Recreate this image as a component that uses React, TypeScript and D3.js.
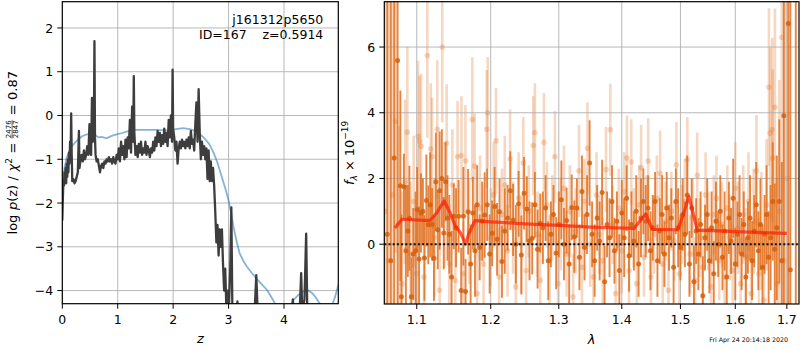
import React, { useEffect, useRef } from "react";
import * as d3 from "d3";

// ---- left panel: log p(z) and prior ----
const pzCurve: [number, number][] = [
  [0.0, -2.4], [0.01, -1.9], [0.02, -1.5], [0.03, -1.6], [0.04, -1.3], [0.05, -1.45], [0.06, -1.2],
  [0.07, -1.55], [0.08, -1.1], [0.09, -1.4], [0.1, -1.0], [0.11, -1.3], [0.12, -0.85], [0.13, -1.1],
  [0.14, -0.6], [0.15, -1.0], [0.16, 0.05], [0.17, -0.9], [0.18, -1.5], [0.2, -1.45], [0.22, -1.55],
  [0.24, -1.5], [0.26, -1.4], [0.28, -1.3], [0.3, -0.35], [0.31, -1.2], [0.33, -1.0], [0.35, -0.9],
  [0.37, -1.05], [0.39, -0.8], [0.41, -1.0], [0.43, -0.9], [0.45, -0.7], [0.47, -0.9], [0.49, -0.2],
  [0.5, -0.8], [0.52, -0.9], [0.535, 0.4], [0.55, -0.6], [0.57, -0.3], [0.58, 1.7], [0.59, -0.5],
  [0.6, -0.9], [0.62, -1.05], [0.64, -1.0], [0.66, -1.15], [0.68, -1.3], [0.7, -1.15], [0.72, -1.1],
  [0.74, -1.2], [0.76, -1.05], [0.78, -1.1], [0.8, -1.0], [0.82, -1.05], [0.84, -0.95], [0.86, -1.05],
  [0.88, -1.0], [0.9, -1.1], [0.92, -0.95], [0.94, -1.05], [0.96, -1.1], [0.98, -0.9], [1.0, -1.0],
  [1.02, -0.75], [1.04, -1.05], [1.06, -0.6], [1.08, -0.9], [1.1, -0.7], [1.12, -1.0], [1.14, -0.55],
  [1.16, -0.95], [1.18, -0.5], [1.2, -0.75], [1.22, -0.1], [1.24, -0.85], [1.26, 0.2], [1.28, -0.6],
  [1.29, 0.9], [1.3, -0.4], [1.32, -0.9], [1.34, -0.7], [1.36, -0.95], [1.38, -0.65], [1.4, -0.85],
  [1.42, -0.6], [1.44, -0.9], [1.46, -0.75], [1.48, -0.85], [1.5, -0.6], [1.52, -0.9], [1.54, -0.7],
  [1.56, -0.8], [1.58, -0.95], [1.6, -0.75], [1.62, -0.85], [1.64, -0.6], [1.66, -0.8], [1.68, -0.5],
  [1.7, -0.7], [1.72, -0.35], [1.74, -0.6], [1.76, -0.4], [1.78, -0.7], [1.8, -0.45], [1.82, -0.65],
  [1.84, -0.3], [1.86, -0.6], [1.88, -0.4], [1.9, -0.7], [1.92, -0.1], [1.94, -0.5], [1.96, 0.0],
  [1.98, -0.6], [1.99, 1.05], [2.0, -0.3], [2.02, -0.5], [2.04, -0.8], [2.06, -0.6], [2.08, -1.1],
  [2.1, -0.75], [2.12, -0.6], [2.14, -0.75], [2.16, -0.55], [2.18, -0.7], [2.2, -0.6], [2.22, -0.75],
  [2.24, -0.55], [2.26, -0.7], [2.28, -0.5], [2.3, -0.75], [2.32, -0.35], [2.34, -0.65], [2.36, -0.55],
  [2.38, -0.8], [2.4, -0.2], [2.42, 0.3], [2.44, -0.6], [2.46, 0.6], [2.48, -0.4], [2.5, -1.0],
  [2.52, -0.6], [2.54, -0.9], [2.56, -0.7], [2.58, -1.0], [2.6, -0.75], [2.62, -1.45], [2.64, -0.8],
  [2.66, -1.5], [2.68, -1.05], [2.7, -1.5], [2.72, -1.2], [2.74, -1.6], [2.76, -2.2], [2.78, -2.9],
  [2.8, -2.5], [2.82, -3.2], [2.84, -2.6], [2.86, -3.0], [2.88, -2.6], [2.9, -3.4], [2.92, -4.0],
  [2.94, -3.5], [2.96, -4.4], [2.98, -4.0], [3.0, -4.6], [3.03, -3.5], [3.05, -2.1], [3.07, -4.6],
  [3.12, -5.0], [3.16, -4.25], [3.18, -5.0], [3.45, -5.0], [3.48, -4.2], [3.5, -3.65], [3.52, -4.3],
  [3.55, -5.0], [4.12, -5.0], [4.16, -4.2], [4.2, -5.0], [4.28, -4.6], [4.31, -3.6], [4.33, -4.5],
  [4.37, -4.2], [4.4, -2.7], [4.42, -4.4], [4.45, -5.0], [4.98, -5.0],
];

const priorCurve: [number, number][] = [
  [0.0, -1.55], [0.04, -1.2], [0.08, -0.96], [0.16, -0.72], [0.26, -0.58], [0.35, -0.48], [0.44, -0.43],
  [0.52, -0.42], [0.59, -0.44], [0.65, -0.5], [0.71, -0.49], [0.8, -0.52], [0.88, -0.47], [0.98, -0.43],
  [1.08, -0.4], [1.16, -0.37], [1.3, -0.33], [1.5, -0.33], [1.7, -0.33], [1.88, -0.34], [2.05, -0.31],
  [2.18, -0.29], [2.3, -0.31], [2.42, -0.36], [2.55, -0.5], [2.65, -0.65], [2.73, -0.85], [2.8, -1.08],
  [2.88, -1.41], [2.95, -1.7], [3.0, -1.94], [3.05, -2.25], [3.09, -2.55], [3.15, -2.9], [3.2, -3.15],
  [3.27, -3.33], [3.33, -3.45], [3.42, -3.6], [3.5, -3.72], [3.6, -3.86], [3.69, -3.98], [3.75, -4.1],
  [3.8, -4.21], [3.86, -4.35], [3.95, -4.45], [4.1, -4.4], [4.17, -4.22], [4.26, -4.1], [4.35, -4.02],
  [4.44, -4.0], [4.5, -4.05], [4.56, -4.13], [4.62, -4.25], [4.68, -4.36], [4.77, -4.45], [4.86, -4.36],
  [4.92, -4.15], [4.98, -3.87],
];

const zTicks = [0, 1, 2, 3, 4];
const logPTicks = [-4, -3, -2, -1, 0, 1, 2];

// ---- right panel: spectra [wavelength, flux, error] ----
const beamDark: [number, number, number][] = [
  [1.0625, 0.3, 40], [1.0669, -0.5, 40], [1.0712, 2.62, 40], [1.0755, 5.59, 40], [1.079, 1.78, 2.9],
  [1.0803, -1.6, 2.5], [1.0835, 1.75, 1.0], [1.086, -0.2, 2.0], [1.0885, 0.4, 1.4], [1.0905, 0.79, 1.6],
  [1.093, -1.6, 1.2], [1.0955, -0.3, 1.4], [1.0985, -0.2, 1.8], [1.1005, 1.05, 1.3], [1.103, -0.45, 1.6],
  [1.1055, 0.95, 1.2], [1.108, 1.0, 1.0], [1.11, -0.42, 1.3], [1.1125, 1.33, 1.4], [1.115, 0.59, 1.2],
  [1.1175, 1.2, 1.6], [1.12, 0.6, 1.1], [1.1225, -0.43, 1.3], [1.125, 1.9, 1.5], [1.1275, 0.44, 1.2],
  [1.13, 1.63, 1.8], [1.133, 2.0, 1.5], [1.1355, 0.34, 1.1], [1.138, 1.9, 1.2], [1.1405, 0.8, 1.3],
  [1.143, 0.3, 1.2], [1.146, -1.0, 1.4], [1.149, 0.85, 1.0], [1.152, 0.5, 1.2], [1.1555, 0.85, 1.1],
  [1.159, -1.41, 1.3], [1.162, 0.85, 1.5], [1.165, -1.44, 1.0], [1.1685, 0.99, 1.3], [1.172, -0.6, 1.2],
  [1.175, 0.95, 1.1], [1.178, -0.2, 1.4], [1.181, 1.2, 1.2], [1.1845, -0.1, 1.0], [1.188, 0.7, 1.2],
  [1.1915, 0.89, 1.3], [1.195, 1.2, 1.1], [1.1985, -0.3, 1.2], [1.202, 0.33, 1.0], [1.2055, 1.15, 1.2],
  [1.209, 0.15, 1.1], [1.2125, 0.99, 1.0], [1.216, -0.53, 1.1], [1.22, 0.4, 1.3], [1.224, 0.8, 1.0],
  [1.228, 1.63, 1.2], [1.232, 0.74, 1.1], [1.236, 0.0, 1.2], [1.24, 1.23, 1.0], [1.244, -0.33, 1.2],
  [1.248, 1.55, 1.1], [1.252, 1.07, 1.0], [1.256, 0.1, 1.2], [1.26, 0.18, 1.1], [1.264, 1.2, 1.0],
  [1.268, -0.15, 1.2], [1.272, 0.64, 0.9], [1.276, 0.5, 1.1], [1.28, 1.1, 1.0], [1.284, -0.5, 1.2],
  [1.288, 0.3, 1.0], [1.292, 0.9, 0.9], [1.296, -0.27, 1.1], [1.3, 0.6, 1.0], [1.304, 1.35, 1.2],
  [1.308, 0.0, 1.1], [1.312, 0.72, 1.0], [1.316, -0.6, 1.2], [1.32, 1.12, 1.0], [1.324, 0.23, 1.1],
  [1.328, 1.1, 0.9], [1.332, -0.4, 1.0], [1.336, 1.6, 1.1], [1.34, -0.1, 1.0], [1.344, 0.9, 1.2],
  [1.348, 2.47, 1.3], [1.352, 0.3, 1.0], [1.356, -0.5, 1.1], [1.36, 0.8, 1.0], [1.364, 0.1, 1.2],
  [1.368, 1.57, 1.0], [1.372, -1.14, 1.1], [1.376, 0.6, 1.0], [1.38, 0.2, 1.2], [1.384, 1.3, 1.1],
  [1.388, -0.2, 1.0], [1.392, 0.7, 0.9], [1.396, -0.8, 1.1], [1.4, 0.95, 1.0], [1.404, 0.2, 1.2],
  [1.408, 1.4, 1.0], [1.412, -0.35, 1.1], [1.416, 0.6, 1.0], [1.42, 0.1, 0.9], [1.424, 1.0, 1.1],
  [1.428, -0.6, 1.0], [1.432, 0.8, 1.2], [1.436, 1.3, 1.0], [1.44, 0.7, 1.1], [1.444, 1.1, 1.0],
  [1.448, -0.2, 1.2], [1.452, 0.5, 1.0], [1.456, 1.3, 0.9], [1.46, -0.5, 1.1], [1.464, 0.4, 1.0],
  [1.468, 0.9, 1.2], [1.472, -0.3, 1.0], [1.476, 1.1, 1.1], [1.48, 0.2, 1.0], [1.484, 0.8, 0.9],
  [1.488, -0.7, 1.1], [1.492, 1.3, 1.0], [1.496, 0.5, 1.2], [1.5, -0.1, 1.0], [1.504, 0.9, 1.1],
  [1.508, 0.3, 1.0], [1.512, 1.5, 1.2], [1.516, -0.6, 1.0], [1.52, 1.1, 0.9], [1.524, -1.14, 1.1],
  [1.528, 0.4, 1.0], [1.532, -0.3, 1.1], [1.536, 0.6, 1.0], [1.54, -1.57, 1.2], [1.544, 0.2, 1.0],
  [1.548, 0.9, 1.1], [1.552, -0.5, 1.0], [1.556, 0.5, 1.1], [1.56, -0.9, 1.0], [1.564, 0.7, 1.2],
  [1.568, 0.0, 1.0], [1.572, 1.0, 1.1], [1.576, -0.4, 1.0], [1.58, 0.4, 1.2], [1.584, -1.0, 1.0],
  [1.588, 0.8, 1.1], [1.592, 0.1, 1.0], [1.596, 1.4, 1.2], [1.6, -0.6, 1.1], [1.604, 0.3, 1.0],
  [1.608, 0.9, 1.2], [1.612, -0.3, 1.1], [1.616, 0.6, 1.0], [1.62, -1.0, 1.2], [1.624, 0.2, 1.1],
  [1.628, 0.8, 1.3], [1.632, -0.5, 1.2], [1.636, 0.4, 1.1], [1.64, 1.2, 1.3], [1.644, -0.2, 1.2],
  [1.648, 0.6, 1.4], [1.652, -0.7, 1.3], [1.656, 0.3, 1.2], [1.66, 0.9, 1.5], [1.664, -0.4, 1.4],
  [1.668, 0.2, 1.6], [1.672, 1.3, 1.8], [1.676, -0.15, 2.0], [1.68, 0.5, 2.2], [1.685, 1.3, 2.5],
  [1.69, -0.5, 3.0], [1.694, 3.91, 40], [1.703, 6.72, 40], [1.707, -0.78, 40], [1.718, 9.0, 40],
];

const beamLight: [number, number, number][] = [
  [1.06, 1.0, 40], [1.064, -0.5, 40], [1.069, 1.5, 6], [1.0729, 3.74, 4.0], [1.077, 0.6, 3.0],
  [1.081, -1.2, 2.8], [1.085, 1.9, 2.5], [1.0879, 3.41, 2.6], [1.092, -0.3, 2.2], [1.096, 1.3, 2.0],
  [1.1, -0.9, 2.0], [1.1017, 3.28, 2.3], [1.1036, 3.13, 2.0], [1.1056, 2.98, 2.2], [1.1095, -1.0, 2.0],
  [1.1138, 5.74, 2.5], [1.1183, 2.9, 2.0], [1.12, 2.66, 1.8], [1.123, 0.2, 1.8], [1.1269, 3.5, 2.1],
  [1.13, -1.4, 1.8], [1.1335, 6.0, 2.3], [1.1365, 1.2, 1.9], [1.1394, 3.07, 1.8], [1.143, -0.6, 1.8],
  [1.147, 1.8, 1.7], [1.151, -1.1, 1.8], [1.1541, 2.66, 1.7], [1.1594, 2.7, 1.8], [1.162, -0.9, 1.6],
  [1.1648, 2.54, 1.7], [1.17, 0.4, 1.6], [1.1743, 3.79, 1.9], [1.1775, 2.38, 1.6], [1.181, -1.5, 1.5],
  [1.185, 1.1, 1.6], [1.19, -0.6, 1.5], [1.1944, 3.5, 1.8], [1.1958, 4.0, 1.7], [1.2, 0.2, 1.5],
  [1.204, 1.5, 1.6], [1.2075, 3.15, 1.6], [1.212, -1.0, 1.5], [1.216, 0.9, 1.4], [1.22, 1.8, 1.5],
  [1.224, -0.2, 1.4], [1.2277, 2.6, 1.5], [1.232, 0.5, 1.4], [1.236, -1.3, 1.5], [1.24, 1.4, 1.4],
  [1.244, 0.0, 1.5], [1.2469, 2.47, 1.4], [1.251, -0.8, 1.3], [1.255, 1.0, 1.4], [1.2615, 3.0, 1.5],
  [1.264, 3.4, 1.5], [1.268, 0.3, 1.3], [1.272, -1.1, 1.4], [1.2775, 3.1, 1.5], [1.282, 1.2, 1.3],
  [1.286, -0.5, 1.4], [1.29, 0.8, 1.3], [1.2941, 2.66, 1.4], [1.299, -1.2, 1.3], [1.303, 0.6, 1.4],
  [1.308, 1.7, 1.3], [1.312, -0.3, 1.3], [1.317, 1.0, 1.4], [1.322, -1.6, 1.3], [1.326, 0.4, 1.3],
  [1.3313, 2.23, 1.4], [1.336, -0.7, 1.3], [1.34, 1.3, 1.3], [1.3446, 2.92, 1.4], [1.349, 0.0, 1.3],
  [1.354, -1.0, 1.2], [1.359, 1.5, 1.3], [1.364, 0.3, 1.2], [1.369, -0.5, 1.3], [1.3743, 2.27, 1.3],
  [1.3813, 3.48, 1.4], [1.385, 0.6, 1.2], [1.39, -1.5, 1.3], [1.395, 1.1, 1.2], [1.4, -0.2, 1.3],
  [1.404, 1.6, 1.2], [1.4085, 2.62, 1.3], [1.412, -0.8, 1.2], [1.4158, 2.5, 1.3], [1.42, 0.5, 1.2],
  [1.425, -1.2, 1.3], [1.429, 1.2, 1.2], [1.4322, 2.33, 1.3], [1.437, -0.4, 1.2], [1.441, 0.9, 1.2],
  [1.4442, 2.53, 1.3], [1.449, -1.0, 1.2], [1.454, 0.3, 1.2], [1.459, 1.4, 1.3], [1.4645, 2.16, 1.3],
  [1.469, -0.6, 1.2], [1.474, 0.7, 1.2], [1.479, -1.4, 1.3], [1.484, 1.0, 1.2], [1.489, 0.1, 1.2],
  [1.4929, 2.42, 1.3], [1.498, -0.9, 1.2], [1.503, 0.6, 1.2], [1.508, 1.3, 1.3], [1.5123, 2.57, 1.3],
  [1.517, -0.3, 1.2], [1.522, 0.8, 1.2], [1.526, -1.1, 1.3], [1.53, 2.1, 1.3], [1.535, 0.2, 1.2],
  [1.54, -0.7, 1.2], [1.545, 1.5, 1.3], [1.55, 0.4, 1.2], [1.555, -1.3, 1.3], [1.56, 0.9, 1.2],
  [1.565, 1.4, 1.3], [1.57, -0.5, 1.2], [1.575, 0.6, 1.3], [1.58, -1.0, 1.3], [1.585, 1.1, 1.3],
  [1.59, 0.2, 1.3], [1.595, -0.8, 1.4], [1.6, 1.7, 1.4], [1.605, 0.5, 1.4], [1.61, -1.2, 1.4],
  [1.615, 0.9, 1.5], [1.62, -0.4, 1.5], [1.625, 1.3, 1.5], [1.63, -1.5, 1.6], [1.635, 0.7, 1.6],
  [1.6403, 2.23, 1.7], [1.645, -0.9, 1.7], [1.65, 0.4, 1.8], [1.655, -1.7, 1.9], [1.66, 1.2, 2.0],
  [1.6646, 4.78, 2.4], [1.667, 3.38, 2.6], [1.671, 3.48, 2.8], [1.672, 2.62, 2.7], [1.6763, 4.17, 3.0],
  [1.68, -1.2, 3.2], [1.685, 1.0, 4.0], [1.69, 6.3, 5.0], [1.695, -0.5, 40], [1.7, 2.0, 40],
];

const modelWave = [1.072, 1.081, 1.117, 1.126, 1.136, 1.144, 1.151, 1.158, 1.165, 1.169, 1.178, 1.2,
  1.25, 1.3, 1.35, 1.42, 1.44, 1.451, 1.495, 1.504, 1.515, 1.524, 1.53, 1.549, 1.6, 1.65, 1.7];
const modelFlux = [0.49, 0.76, 0.72, 0.95, 1.32, 0.95, 0.55, 0.35, 0.0, 0.3, 0.72, 0.68,
  0.62, 0.57, 0.52, 0.48, 0.92, 0.45, 0.44, 0.85, 1.45, 0.85, 0.42, 0.42, 0.38, 0.35, 0.33];

const waveTicks = [1.1, 1.2, 1.3, 1.4, 1.5, 1.6, 1.7];
const fluxTicks = [0, 2, 4, 6];

const FONT = "DejaVu Sans, sans-serif";
const GRID = "#b0b0b0";
const ORANGE = "#e07020";

type Piece = { text?: string; frac?: [string, string]; size?: number; italic?: boolean; dy?: number; gap?: number };

function mathLabel(g: any, pieces: Piece[]) {
  let x = 0;
  for (const p of pieces) {
    x += p.gap || 0;
    const size = p.size || 13;
    if (p.frac) {
      const num = g.append("text").attr("y", -6.4).attr("font-size", size).text(p.frac[0]);
      const den = g.append("text").attr("y", 0.6).attr("font-size", size).text(p.frac[1]);
      const w = Math.max(num.node().getComputedTextLength(), den.node().getComputedTextLength()) + 1;
      num.attr("x", x + w / 2).attr("text-anchor", "middle");
      den.attr("x", x + w / 2).attr("text-anchor", "middle");
      g.append("line").attr("x1", x).attr("x2", x + w).attr("y1", -4.9).attr("y2", -4.9)
        .attr("stroke", "#000").attr("stroke-width", 0.6);
      x += w;
    } else {
      const t = g.append("text").attr("x", x).attr("y", p.dy || 0).attr("font-size", size)
        .attr("font-style", p.italic ? "italic" : null).text(p.text);
      x += t.node().getComputedTextLength();
    }
  }
  return x;
}

export default function App() {
  const svgRef = useRef<SVGSVGElement>(null);

  useEffect(() => {
    const svg = d3.select(svgRef.current);
    svg.selectAll("*").remove();
    svg.attr("font-family", FONT);

    // ----- panel geometry
    const L = { x0: 62.3, x1: 338.3, y0: 1.7, y1: 303.7 };
    const R = { x0: 384.3, x1: 799, y0: 1.7, y1: 304 };

    const zx = d3.scaleLinear().domain([0, 4.98]).range([L.x0, L.x1]);
    const zy = d3.scaleLinear().domain([-4.3, 2.6]).range([L.y1, L.y0]);
    const wx = d3.scaleLog().domain([1.0588, 1.7245]).range([R.x0, R.x1]);
    const fy = d3.scaleLinear().domain([-1.82, 7.38]).range([R.y1, R.y0]);

    const defs = svg.append("defs");
    defs.append("clipPath").attr("id", "clipL").append("rect")
      .attr("x", L.x0).attr("y", L.y0).attr("width", L.x1 - L.x0).attr("height", L.y1 - L.y0);
    defs.append("clipPath").attr("id", "clipR").append("rect")
      .attr("x", R.x0).attr("y", R.y0).attr("width", R.x1 - R.x0).attr("height", R.y1 - R.y0);

    // ===== left panel =====
    const gl = svg.append("g").attr("clip-path", "url(#clipL)");
    gl.selectAll("line.vg").data(zTicks).join("line")
      .attr("x1", (d) => zx(d)).attr("x2", (d) => zx(d)).attr("y1", L.y0).attr("y2", L.y1)
      .attr("stroke", GRID).attr("stroke-width", 0.9);
    gl.selectAll("line.hg").data(logPTicks).join("line")
      .attr("x1", L.x0).attr("x2", L.x1).attr("y1", (d) => zy(d)).attr("y2", (d) => zy(d))
      .attr("stroke", GRID).attr("stroke-width", 0.9);

    const zLine = d3.line<[number, number]>().x((d) => zx(d[0])).y((d) => zy(d[1]));
    gl.append("path").attr("d", zLine(priorCurve)).attr("fill", "none")
      .attr("stroke", "#1f77b4").attr("stroke-opacity", 0.55).attr("stroke-width", 1.8);
    gl.append("path").attr("d", zLine(pzCurve)).attr("fill", "none")
      .attr("stroke", "#3d3d3d").attr("stroke-width", 2.3).attr("stroke-linejoin", "round");

    // ===== right panel =====
    const gr = svg.append("g").attr("clip-path", "url(#clipR)");

    const drawBeam = (rows: [number, number, number][], opacity: number, barW: number, r: number, dotColor: string) => {
      const g = gr.append("g");
      g.selectAll("line").data(rows).join("line")
        .attr("x1", (d) => wx(d[0])).attr("x2", (d) => wx(d[0]))
        .attr("y1", (d) => fy(d[1] - d[2])).attr("y2", (d) => fy(d[1] + d[2]))
        .attr("stroke", ORANGE).attr("stroke-opacity", opacity).attr("stroke-width", barW);
      g.selectAll("circle").data(rows).join("circle")
        .attr("cx", (d) => wx(d[0])).attr("cy", (d) => fy(d[1])).attr("r", r)
        .attr("fill", dotColor).attr("fill-opacity", opacity);
    };

    drawBeam(beamLight, 0.28, 2.6, 2.8, ORANGE);

    gr.selectAll("line.vg").data(waveTicks).join("line")
      .attr("x1", (d) => wx(d)).attr("x2", (d) => wx(d)).attr("y1", R.y0).attr("y2", R.y1)
      .attr("stroke", GRID).attr("stroke-width", 0.9);
    gr.selectAll("line.hg").data(fluxTicks).join("line")
      .attr("x1", R.x0).attr("x2", R.x1).attr("y1", (d) => fy(d)).attr("y2", (d) => fy(d))
      .attr("stroke", GRID).attr("stroke-width", 0.9);

    drawBeam(beamDark, 0.85, 1.9, 2.5, "#d65f0c");

    const mLine = d3.line<number>().x((d) => wx(d)).y((_, i) => fy(modelFlux[i]));
    gr.append("path").attr("d", mLine(modelWave)).attr("fill", "none")
      .attr("stroke", "#ff1a00").attr("stroke-opacity", 0.7).attr("stroke-width", 3.2)
      .attr("stroke-linejoin", "round");

    gr.append("line").attr("x1", R.x0).attr("x2", R.x1).attr("y1", fy(0)).attr("y2", fy(0))
      .attr("stroke", "#111").attr("stroke-width", 2).attr("stroke-dasharray", "2,2.2");

    // ===== axes, ticks, spines =====
    const tickLen = 5;
    const drawAxes = (P: typeof L, xs: any, ys: any, xt: number[], yt: number[], xfmt: (d: number) => string) => {
      const g = svg.append("g");
      g.append("rect").attr("x", P.x0).attr("y", P.y0).attr("width", P.x1 - P.x0).attr("height", P.y1 - P.y0)
        .attr("fill", "none").attr("stroke", "#000").attr("stroke-width", 1.2);
      g.selectAll("line.xt").data(xt).join("line")
        .attr("x1", (d) => xs(d)).attr("x2", (d) => xs(d)).attr("y1", P.y1).attr("y2", P.y1 + tickLen)
        .attr("stroke", "#000").attr("stroke-width", 1);
      svg.append("g").selectAll("text").data(xt).join("text")
        .attr("x", (d) => xs(d)).attr("y", 324).attr("text-anchor", "middle").attr("font-size", 12.5)
        .text((d) => xfmt(d));
      svg.append("g").selectAll("line").data(yt).join("line")
        .attr("x1", P.x0 - tickLen).attr("x2", P.x0).attr("y1", (d) => ys(d)).attr("y2", (d) => ys(d))
        .attr("stroke", "#000").attr("stroke-width", 1);
      svg.append("g").selectAll("text").data(yt).join("text")
        .attr("x", P.x0 - tickLen - 4).attr("y", (d) => ys(d) + 4.6).attr("text-anchor", "end")
        .attr("font-size", 12.5).text((d) => (d < 0 ? "\u2212" + Math.abs(d) : String(d)));
    };
    drawAxes(L, zx, zy, zTicks, logPTicks, (d) => String(d));
    drawAxes(R, wx, fy, waveTicks, fluxTicks, (d) => d.toFixed(1));

    // axis labels
    svg.append("text").attr("x", (L.x0 + L.x1) / 2).attr("y", 343).attr("text-anchor", "middle")
      .attr("font-size", 13).attr("font-style", "italic").text("z");
    svg.append("text").attr("x", (R.x0 + R.x1) / 2).attr("y", 344).attr("text-anchor", "middle")
      .attr("font-size", 13).attr("font-style", "italic").text("\u03bb");

    const yl = svg.append("g");
    const wl = mathLabel(yl, [
      { text: "log" }, { gap: 4.5, text: "p", italic: true }, { text: "(z)" }, { gap: 4.5, text: "/" },
      { gap: 4.5, text: "\u03c7", italic: true }, { text: "2", size: 9, dy: -5.5 }, { gap: 4.5, text: "=" },
      { gap: 4, frac: ["2476", "2847"], size: 7 }, { gap: 4.5, text: "=" }, { gap: 4.5, text: "0.87" },
    ]);
    yl.attr("transform", `translate(17,${(L.y0 + L.y1) / 2}) rotate(-90) translate(${-wl / 2},0)`);

    const yr = svg.append("g");
    const wr = mathLabel(yr, [
      { text: "f", italic: true }, { text: "\u03bb", size: 9, dy: 3, italic: true }, { gap: 4, text: "\u00d7" },
      { gap: 4, text: "10" }, { text: "\u221219", size: 9, dy: -6 },
    ]);
    yr.attr("transform", `translate(354,${(R.y0 + R.y1) / 2}) rotate(-90) translate(${-wr / 2},0)`);

    // annotations
    svg.append("text").attr("x", 323.3).attr("y", 24).attr("text-anchor", "end").attr("font-size", 12.5)
      .text("j161312p5650");
    svg.append("text").attr("x", 323.3).attr("y", 39).attr("text-anchor", "end").attr("font-size", 12.5)
      .attr("xml:space", "preserve").style("white-space", "pre").text("ID=167    z=0.5914");
    svg.append("text").attr("x", 788).attr("y", 342).attr("text-anchor", "end").attr("font-size", 6.3)
      .text("Fri Apr 24 20:14:18 2020");
  }, []);

  return (
    <svg ref={svgRef} width={800} height={350}
      style={{ position: "absolute", left: 0, top: 0, background: "#fff" }} />
  );
}
